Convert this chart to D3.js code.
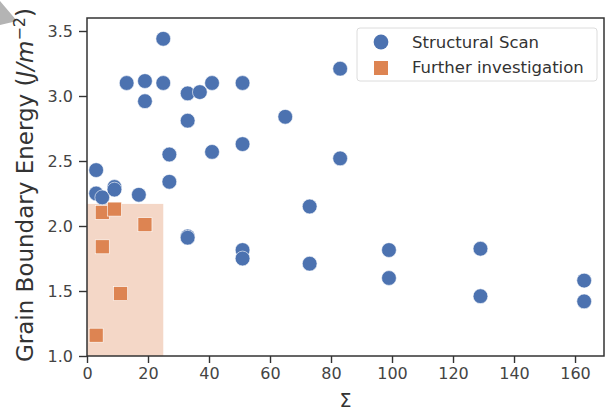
<!DOCTYPE html>
<html>
<head>
<meta charset="utf-8">
<script src="https://cdn.jsdelivr.net/npm/d3@7"></script>
<style>
  html, body { margin: 0; padding: 0; background: #fff; }
  svg { display: block; font-family: "DejaVu Sans", sans-serif; }
</style>
</head>
<body>
<svg id="chart" width="607" height="414"></svg>
<script>
// Structural scan: coincidence index Σ and grain boundary energy (J/m^-2)
const scanSigma  = [3, 3, 5, 9, 9, 17, 27, 27, 25, 13, 19, 25, 19, 33, 37, 41, 51, 33, 41, 51, 65, 83, 83, 73, 33, 33, 51, 51, 73, 99, 99, 129, 129, 163, 163];
const scanEnergy = [2.43, 2.25, 2.22, 2.30, 2.28, 2.24, 2.55, 2.34, 3.44, 3.10, 3.115, 3.10, 2.96, 3.02, 3.03, 3.10, 3.10, 2.81, 2.57, 2.63, 2.84, 3.21, 2.52, 2.15, 1.92, 1.91, 1.815, 1.75, 1.71, 1.815, 1.60, 1.825, 1.46, 1.58, 1.42];

// Boundaries selected for further investigation
const furtherSigma  = [5, 9, 19, 5, 11, 3];
const furtherEnergy = [2.105, 2.13, 2.01, 1.84, 1.48, 1.16];

// Highlighted selection window (Σ range, energy range)
const windowSigma  = [0, 25];
const windowEnergy = [1.0, 2.17];

const xTicks = [0, 20, 40, 60, 80, 100, 120, 140, 160];
const yTicks = [1.0, 1.5, 2.0, 2.5, 3.0, 3.5];
const seriesNames = ["Structural Scan", "Further investigation"];

const blue = "#4c72b0", orange = "#dd8452";
const svg = d3.select("#chart");
const plotL = 87, plotR = 604, plotT = 18, plotB = 356;

const x = d3.scaleLinear().domain([0, 169.5]).range([plotL, plotR]);
const y = d3.scaleLinear().domain([1.0, 3.6]).range([plotB, plotT]);

// corner mark
svg.append("polygon")
  .attr("points", "0,1 17,21 0,25")
  .attr("fill", "#b4b4b4");

// selection window
svg.append("rect")
  .attr("x", x(windowSigma[0]))
  .attr("y", y(windowEnergy[1]))
  .attr("width", x(windowSigma[1]) - x(windowSigma[0]))
  .attr("height", y(windowEnergy[0]) - y(windowEnergy[1]))
  .attr("fill", orange)
  .attr("fill-opacity", 0.32);

// scan points
svg.append("g").selectAll("circle")
  .data(d3.zip(scanSigma, scanEnergy))
  .join("circle")
  .attr("cx", d => x(d[0]))
  .attr("cy", d => y(d[1]))
  .attr("r", 7.4)
  .attr("fill", blue)
  .attr("stroke", "#fff")
  .attr("stroke-width", 0.6);

// further investigation squares
const sq = 14;
svg.append("g").selectAll("rect")
  .data(d3.zip(furtherSigma, furtherEnergy))
  .join("rect")
  .attr("x", d => x(d[0]) - sq / 2)
  .attr("y", d => y(d[1]) - sq / 2)
  .attr("width", sq)
  .attr("height", sq)
  .attr("fill", orange)
  .attr("stroke", "#fff")
  .attr("stroke-width", 0.6);

// axes
const axisColor = "#333";
const tickText = "#444";
const xAxis = svg.append("g")
  .attr("transform", `translate(0,${plotB})`)
  .call(d3.axisBottom(x).tickValues(xTicks).tickFormat(d3.format("d")).tickSize(7).tickPadding(5));
const yAxis = svg.append("g")
  .attr("transform", `translate(${plotL},0)`)
  .call(d3.axisLeft(y).tickValues(yTicks).tickFormat(d3.format(".1f")).tickSize(8).tickPadding(6));
[xAxis, yAxis].forEach(g => {
  g.select(".domain").remove();
  g.selectAll(".tick line").attr("stroke", axisColor).attr("stroke-width", 1.4);
  g.selectAll(".tick text").attr("fill", tickText).style("font-size", "16px").style("font-family", "DejaVu Sans");
});

// frame
svg.append("rect")
  .attr("x", plotL).attr("y", plotT)
  .attr("width", plotR - plotL).attr("height", plotB - plotT)
  .attr("fill", "none")
  .attr("stroke", axisColor)
  .attr("stroke-width", 1.5);

// axis labels
svg.append("text")
  .attr("x", (plotL + plotR) / 2)
  .attr("y", 407)
  .attr("text-anchor", "middle")
  .attr("fill", "#333")
  .style("font-size", "19px")
  .text("Σ");

const yl = svg.append("text")
  .attr("transform", `translate(33,${(plotT + plotB) / 2 - 2}) rotate(-90)`)
  .attr("text-anchor", "middle")
  .attr("fill", "#333")
  .style("font-size", "23px");
yl.append("tspan").text("Grain Boundary Energy (");
yl.append("tspan").attr("font-style", "italic").text("J/m");
yl.append("tspan").attr("dy", -8).style("font-size", "16px").text("−2");
yl.append("tspan").attr("dy", 8).text(")");

// legend
const lg = svg.append("g");
lg.append("rect")
  .attr("x", 357).attr("y", 28).attr("width", 240).attr("height", 53)
  .attr("rx", 3)
  .attr("fill", "#fff").attr("fill-opacity", 0.85)
  .attr("stroke", "#dcdcdc");
lg.append("circle").attr("cx", 381).attr("cy", 42).attr("r", 7.4).attr("fill", blue);
lg.append("rect").attr("x", 381 - sq / 2).attr("y", 68 - sq / 2).attr("width", sq).attr("height", sq).attr("fill", orange);
seriesNames.forEach((name, i) => {
  lg.append("text")
    .attr("x", 412).attr("y", 48 + i * 25)
    .attr("fill", "#333")
    .style("font-size", "16.5px")
    .text(name);
});
</script>
</body>
</html>
